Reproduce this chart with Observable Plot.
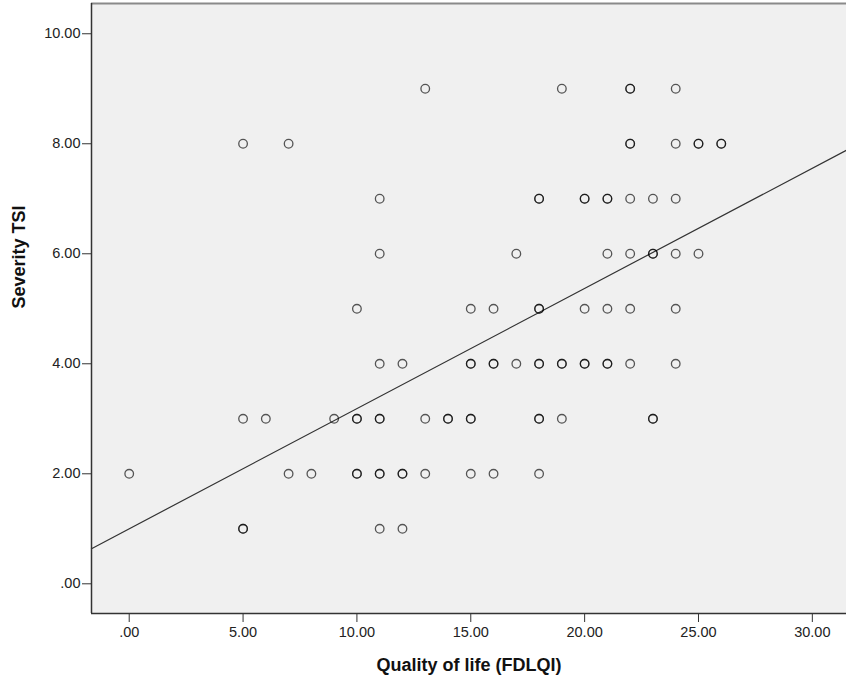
<!DOCTYPE html>
<html>
<head>
<meta charset="utf-8">
<script src="https://cdn.jsdelivr.net/npm/d3@7"></script>
<script src="https://cdn.jsdelivr.net/npm/@observablehq/plot@0.6"></script>
<style>
  html, body { margin: 0; padding: 0; background: #ffffff; }
  #chart svg { display: block; }
</style>
</head>
<body>
<div id="chart"></div>
<script>
// Severity TSI levels and the Quality of life (FDLQI) values observed at each level
const severityLevels = [9, 8, 7, 6, 5, 4, 3, 2, 1];
const qolAt9 = [13, 19, 22, 22, 24];
const qolAt8 = [5, 7, 22, 22, 24, 25, 25, 26, 26];
const qolAt7 = [11, 18, 18, 20, 20, 21, 21, 22, 23, 24];
const qolAt6 = [11, 17, 21, 22, 23, 23, 24, 25];
const qolAt5 = [10, 15, 16, 18, 18, 20, 21, 22, 24];
const qolAt4 = [11, 12, 15, 15, 16, 16, 17, 18, 18, 19, 19, 20, 20, 21, 21, 22, 24];
const qolAt3 = [5, 6, 9, 10, 10, 11, 11, 13, 14, 14, 15, 15, 18, 18, 19, 23, 23];
const qolAt2 = [0, 7, 8, 10, 10, 11, 11, 12, 12, 13, 15, 16, 18];
const qolAt1 = [5, 5, 11, 12];
const qolByLevel = [qolAt9, qolAt8, qolAt7, qolAt6, qolAt5, qolAt4, qolAt3, qolAt2, qolAt1];

// Fit line
const fitIntercept = 1.0;
const fitSlope = 0.2185;

// Axis ticks
const xTicks = [0, 5, 10, 15, 20, 25, 30];
const yTicks = [0, 2, 4, 6, 8, 10];
const xDomain = [-1.656, 31.5];
const yDomain = [-0.54, 10.55];
const xTitle = "Quality of life (FDLQI)";
const yTitle = "Severity TSI";

const points = [];
severityLevels.forEach((s, i) => qolByLevel[i].forEach(q => points.push({qol: q, tsi: s})));
const fitLine = xDomain.map(x => ({qol: x, tsi: fitIntercept + fitSlope * x}));

const fmt = v => v === 0 ? ".00" : v.toFixed(2);
const font = "'Liberation Sans', Arial, sans-serif";

const chart = Plot.plot({
  width: 846,
  height: 685,
  marginTop: 3,
  marginLeft: 91,
  marginRight: 0,
  marginBottom: 72,
  style: {fontFamily: font, color: "#222", background: "#ffffff"},
  x: {domain: xDomain},
  y: {domain: yDomain},
  marks: [
    Plot.frame({fill: "#f0f0f0", stroke: null}),
    Plot.ruleY([yDomain[1]], {stroke: "#8a8a8a", strokeWidth: 2}),
    Plot.axisX({ticks: xTicks, tickFormat: fmt, tickSize: 9, tickPadding: 4, fontSize: 14.5,
      stroke: "#333", fill: "#222", label: null}),
    Plot.axisY({ticks: yTicks, tickFormat: fmt, tickSize: 9, tickPadding: 2, fontSize: 14.5,
      stroke: "#333", fill: "#222", label: null}),
    Plot.text([xTitle], {frameAnchor: "bottom", dy: 57, text: d => d, fontSize: 18, fontWeight: "bold", fill: "#111"}),
    Plot.text([yTitle], {frameAnchor: "left", dx: -72, rotate: -90, text: d => d, fontSize: 18, fontWeight: "bold", fill: "#111"}),
    Plot.line(fitLine, {x: "qol", y: "tsi", stroke: "#333", strokeWidth: 1.2}),
    Plot.dot(points, {x: "qol", y: "tsi", r: 4.3, stroke: "#000", strokeOpacity: 0.65, strokeWidth: 1.3, fill: "none"}),
    Plot.ruleX([xDomain[0]], {stroke: "#333", strokeWidth: 1.5}),
    Plot.ruleY([yDomain[0]], {stroke: "#333", strokeWidth: 1.5})
  ]
});
document.getElementById("chart").appendChild(chart);
</script>
</body>
</html>
